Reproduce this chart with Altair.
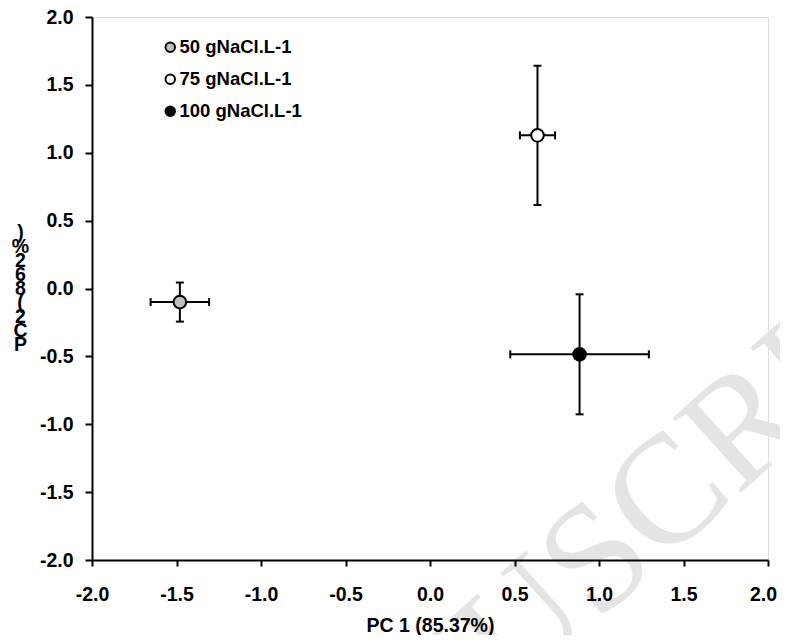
import altair as alt
import pandas as pd

groups = ["50 gNaCl.L-1", "75 gNaCl.L-1", "100 gNaCl.L-1"]
pc1 = [-1.48, 0.636, 0.885]
pc2 = [-0.10, 1.128, -0.485]
pc1_err = [0.173, 0.104, 0.41]
pc2_err = [0.144, 0.513, 0.442]
fills = ["#c0c0c0", "#ffffff", "#000000"]
x_ticks = [-2.0, -1.5, -1.0, -0.5, 0.0, 0.5, 1.0, 1.5, 2.0]
y_ticks = [-2.0, -1.5, -1.0, -0.5, 0.0, 0.5, 1.0, 1.5, 2.0]
x_title = "PC 1 (85.37%)"
y_title_chars = [")", "%", "2", "6", "8", "(", "2", "C", "P"]
watermark = "ACCEPTED MANUSCRIPT"

df = pd.DataFrame({"group": groups, "pc1": pc1, "pc2": pc2,
                   "ex": pc1_err, "ey": pc2_err})
df["xlo"] = df.pc1 - df.ex
df["xhi"] = df.pc1 + df.ex
df["ylo"] = df.pc2 - df.ey
df["yhi"] = df.pc2 + df.ey

hcaps = pd.concat([
    pd.DataFrame({"cx": df.xlo, "cy": df.pc2}),
    pd.DataFrame({"cx": df.xhi, "cy": df.pc2}),
])
vcaps = pd.concat([
    pd.DataFrame({"cx": df.pc1, "cy": df.ylo}),
    pd.DataFrame({"cx": df.pc1, "cy": df.yhi}),
])

FONT = "Liberation Sans"
FS = 19.5

xscale = alt.Scale(domain=[-2, 2], nice=False, zero=False)
yscale = alt.Scale(domain=[-2, 2], nice=False, zero=False)
label_expr = "datum.value < 0 ? '-' + format(-datum.value, '.1f') : format(datum.value, '.1f')"

xaxis = alt.Axis(values=x_ticks, labelExpr=label_expr, title=x_title,
                 grid=False, domainColor="black", domainWidth=2,
                 tickColor="black", tickWidth=2, tickSize=6,
                 labelFont=FONT, labelFontSize=FS, labelFontWeight="bold",
                 labelColor="black", labelPadding=19, labelFlush=False,
                 labelOverlap=False,
                 labelOffset={"condition": {"test": "datum.value >= 2", "value": -5},
                              "value": 0},
                 titleFont=FONT, titleFontSize=FS, titleFontWeight="bold",
                 titleColor="black", titlePadding=13, zindex=1)
yaxis = alt.Axis(values=y_ticks, labelExpr=label_expr, title=y_title_chars,
                 grid=False, domainColor="black", domainWidth=2,
                 tickColor="black", tickWidth=2, tickSize=7,
                 labelFont=FONT, labelFontSize=FS, labelFontWeight="bold",
                 labelColor="black", labelPadding=12, labelFlush=False,
                 labelOverlap=False,
                 titleFont=FONT, titleFontSize=FS, titleFontWeight="bold",
                 titleColor="black", titleAngle=0, titleAlign="center",
                 titleBaseline="middle", titleLineHeight=14,
                 titleX=-72, titleY=215, zindex=1)

base = alt.Chart(df)

wm = alt.Chart(pd.DataFrame({"t": [watermark]})).mark_text(
    font="Liberation Serif", fontSize=155, color="#e4e4e4",
    angle=318, align="center", baseline="middle"
).encode(text="t:N", x=alt.value(180), y=alt.value(835))

hbar = base.mark_rule(color="black", strokeWidth=2).encode(
    x=alt.X("xlo:Q", scale=xscale, axis=xaxis), x2="xhi:Q",
    y=alt.Y("pc2:Q", scale=yscale, axis=yaxis))
vbar = base.mark_rule(color="black", strokeWidth=2).encode(
    x=alt.X("pc1:Q", scale=xscale), y=alt.Y("ylo:Q", scale=yscale), y2="yhi:Q")
hcap = alt.Chart(hcaps).mark_rule(color="black", strokeWidth=2,
                                  yOffset=-4, y2Offset=4).encode(
    x=alt.X("cx:Q", scale=xscale), y=alt.Y("cy:Q", scale=yscale), y2="cy:Q")
vcap = alt.Chart(vcaps).mark_rule(color="black", strokeWidth=2,
                                  xOffset=-4, x2Offset=4).encode(
    x=alt.X("cx:Q", scale=xscale), x2="cx:Q", y=alt.Y("cy:Q", scale=yscale))

pts = base.mark_point(shape="circle", filled=True, size=160, stroke="black",
                      strokeWidth=2, opacity=1).encode(
    x=alt.X("pc1:Q", scale=xscale),
    y=alt.Y("pc2:Q", scale=yscale),
    fill=alt.Fill("group:N", scale=alt.Scale(domain=groups, range=fills),
                  sort=groups,
                  legend=alt.Legend(title=None, orient="none", legendX=69,
                                    legendY=21, padding=0,
                                    symbolType="circle", symbolSize=90,
                                    symbolStrokeColor="black",
                                    symbolStrokeWidth=2, symbolOpacity=1,
                                    labelFont=FONT, labelFontSize=18.5,
                                    labelFontWeight="bold", labelColor="black",
                                    labelOffset=0, rowPadding=13)),
)

chart = alt.layer(wm, hbar, vbar, hcap, vcap, pts).properties(
    width=676, height=543, autosize="none",
    padding={"left": 84, "top": 9, "right": 12, "bottom": 75},
).configure_view(stroke=None).configure(background="white")

chart.save("out.html", embed_options={"renderer": "svg", "actions": False})
